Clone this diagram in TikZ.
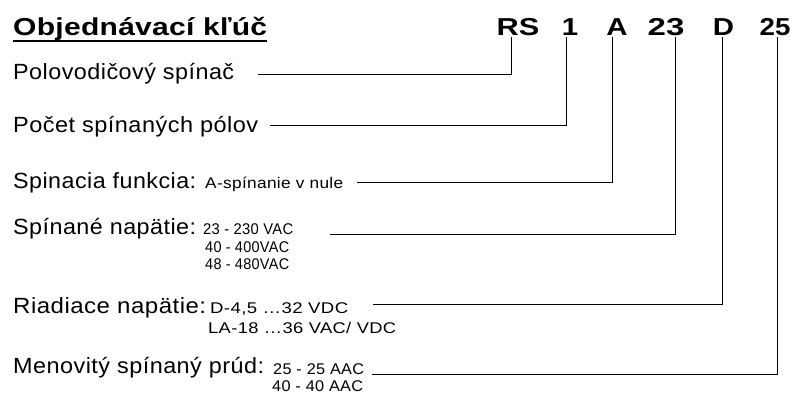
\documentclass[tikz,border=0pt]{standalone}
\usepackage{fontspec}
\setmainfont{Liberation Sans}
\newfontfamily\regf[LetterSpace=2]{Liberation Sans}
\newfontfamily\ttlf[FakeStretch=1.2,LetterSpace=1]{Liberation Sans}
\newcommand\fitw[2]{\resizebox{#1pt}{\height}{#2}}
\tikzset{
  lab/.style={anchor=base west, inner sep=0pt, font=\regf\fontsize{22}{26}\selectfont},
  sml/.style={anchor=base west, inner sep=0pt, font=\regf\fontsize{15.5}{18}\selectfont},
  codeletter/.style={anchor=base, inner sep=0pt, font=\ttlf\bfseries\fontsize{24.5}{28}\selectfont},
  conn/.style={line width=0.9pt, black}
}
\begin{document}
\begin{tikzpicture}[x=1pt,y=-1pt]
\useasboundingbox (0,0) rectangle (794,399);
% title
\node[codeletter, anchor=base west] (title) at (13,35) {\fitw{254}{Objednávací kľúč}};
\draw[line width=2pt] ([yshift=-6pt]title.base west) -- ([yshift=-6pt]title.base east);
% code letters
\node[codeletter] (rs) at (518,35) {\fitw{43}{RS}};
\node[codeletter] (one) at (570,35) {1};
\node[codeletter] (a) at (617,35) {A};
\node[codeletter] (v) at (666,35) {\fitw{37}{23}};
\node[codeletter] (d) at (723.5,35) {D};
\node[codeletter] (i) at (775,35) {\fitw{31}{25}};
% labels
\node[lab] (l1) at (13,79) {\fitw{221}{Polovodičový spínač}};
\node[lab] (l2) at (13,132) {\fitw{245}{Počet spínaných pólov}};
\node[lab] (l3) at (13,188) {\fitw{183}{Spinacia funkcia:}};
\node[sml] (l3a) at (205,188) {\fitw{138}{A-spínanie v nule}};
\node[lab] (l4) at (13,234) {\fitw{183}{Spínané napätie:}};
\node[sml] (l4a) at (203,234) {\fitw{90}{23 - 230 VAC}};
\node[sml] (l4b) at (205,252) {\fitw{84}{40 - 400VAC}};
\node[sml] (l4c) at (205,269) {\fitw{84}{48 - 480VAC}};
\node[lab] (l5) at (13,313) {\fitw{193}{Riadiace napätie:}};
\node[sml] (l5a) at (210,313) {\fitw{138}{D-4,5 …32 VDC}};
\node[sml] (l5b) at (208,333) {\fitw{188}{LA-18 …36 VAC/ VDC}};
\node[lab] (l6) at (13,373) {\fitw{251}{Menovitý spínaný prúd:}};
\node[sml] (l6a) at (273,374) {\fitw{91}{25 - 25 AAC}};
\node[sml] (l6b) at (272,391) {\fitw{91}{40 - 40 AAC}};
% connector ends
\coordinate (s1) at (258,74);  \coordinate (t1) at (511,37);
\coordinate (s2) at (270,125); \coordinate (t2) at (566,37);
\coordinate (s3) at (357,182); \coordinate (t3) at (612,37);
\coordinate (s4) at (330,234); \coordinate (t4) at (675,37);
\coordinate (s5) at (373,304); \coordinate (t5) at (722,37);
\coordinate (s6) at (372,374); \coordinate (t6) at (777,37);
\draw[conn] (s1) -| (t1);
\draw[conn] (s2) -| (t2);
\draw[conn] (s3) -| (t3);
\draw[conn] (s4) -| (t4);
\draw[conn] (s5) -| (t5);
\draw[conn] (s6) -| (t6);
\end{tikzpicture}
\end{document}
